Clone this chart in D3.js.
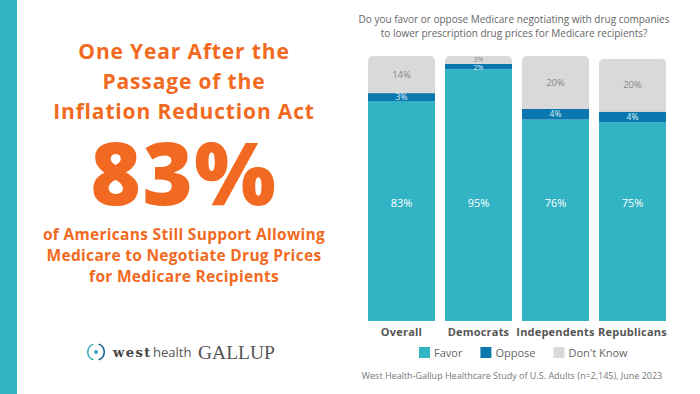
<!DOCTYPE html>
<html>
<head>
<meta charset="utf-8">
<script src="https://cdn.jsdelivr.net/npm/d3@7"></script>
<style>
  body { margin: 0; background: #fff; }
  svg { display: block; }
</style>
</head>
<body>
<svg id="chart"></svg>
<script>
var width = 700;
var height = 394;

// chart data
var categories = ["Overall", "Democrats", "Independents", "Republicans"];
var favor = [83, 95, 76, 75];
var oppose = [3, 2, 4, 4];
var dontKnow = [14, 3, 20, 20];
var seriesNames = ["Favor", "Oppose", "Don't Know"];
var seriesColors = ["#33b4c4", "#0a78ae", "#d9d9d9"];

var headline = ["One Year After the", "Passage of the", "Inflation Reduction Act"];
var bigNumber = "83%";
var subline = ["of Americans Still Support Allowing", "Medicare to Negotiate Drug Prices", "for Medicare Recipients"];
var question = ["Do you favor or oppose Medicare negotiating with drug companies",
                "to lower prescription drug prices for Medicare recipients?"];
var source = "West Health-Gallup Healthcare Study of U.S. Adults (n=2,145), June 2023";

var orange = "#f26a21";
var font = "'Open Sans', sans-serif";

var svg = d3.select("#chart")
  .attr("width", width)
  .attr("height", height)
  .style("font-family", font);

// teal stripe on the left
svg.append("rect").attr("x", 0).attr("y", 0).attr("width", 17).attr("height", height).attr("fill", "#32b4c4");

// left side headline
svg.selectAll(".headline").data(headline).enter().append("text")
  .attr("class", "headline")
  .attr("x", 184)
  .attr("y", (d, i) => 59 + i * 30)
  .attr("text-anchor", "middle")
  .attr("fill", orange)
  .style("font-size", "21px")
  .style("font-weight", 700)
  .style("letter-spacing", "0.85px")
  .text(d => d);

svg.append("text")
  .attr("x", 184)
  .attr("y", 205)
  .attr("text-anchor", "middle")
  .attr("fill", orange)
  .style("font-size", "86px")
  .style("font-weight", 800)
  .style("letter-spacing", "1.5px")
  .text(bigNumber);

svg.selectAll(".subline").data(subline).enter().append("text")
  .attr("class", "subline")
  .attr("x", 184)
  .attr("y", (d, i) => 240 + i * 21)
  .attr("text-anchor", "middle")
  .attr("fill", orange)
  .style("font-size", "15.5px")
  .style("font-weight", 700)
  .style("letter-spacing", "0.3px")
  .text(d => d);

// logos
var logo = svg.append("g").attr("transform", "translate(96,352)");
logo.append("path")
  .attr("d", d3.arc().innerRadius(7.5).outerRadius(9)({startAngle: Math.PI * 1.1, endAngle: Math.PI * 1.9}))
  .attr("fill", "#35a9b8");
logo.append("path")
  .attr("d", d3.arc().innerRadius(7.5).outerRadius(9)({startAngle: Math.PI * 0.1, endAngle: Math.PI * 0.9}))
  .attr("fill", "#0a5f86");
logo.append("circle").attr("r", 2).attr("fill", "#35a9b8");
svg.append("text")
  .attr("x", 113).attr("y", 357)
  .attr("fill", "#444")
  .style("font-family", "'DejaVu Serif', serif")
  .style("font-size", "13px")
  .style("font-weight", 700)
  .style("letter-spacing", "1.5px")
  .text("west");
svg.append("text")
  .attr("x", 153).attr("y", 357)
  .attr("fill", "#555")
  .style("font-size", "13px")
  .text("health");
svg.append("text")
  .attr("x", 198).attr("y", 359)
  .attr("fill", "#555")
  .style("font-family", "'Liberation Serif', serif")
  .style("font-size", "19.5px")
  .text("GALLUP");

// question
svg.selectAll(".question").data(question).enter().append("text")
  .attr("class", "question")
  .attr("x", 514)
  .attr("y", (d, i) => 23 + i * 14)
  .attr("text-anchor", "middle")
  .attr("fill", "#666")
  .style("font-size", "10px")
  .text(d => d);

// scales
var x = d3.scaleBand()
  .domain(categories)
  .range([368, 666])
  .paddingInner(0.13);

var y = d3.scaleLinear()
  .domain([0, 100])
  .range([321, 56]);

var rows = categories.map((c, i) => ({category: c, favor: favor[i], oppose: oppose[i], dontKnow: dontKnow[i]}));
var keys = ["favor", "oppose", "dontKnow"];
var stacked = d3.stack().keys(keys)(rows);

// rounded top corners via clip
var defs = svg.append("defs");
rows.forEach(function (r, i) {
  defs.append("clipPath").attr("id", "clip" + i)
    .append("rect")
    .attr("x", x(r.category))
    .attr("y", y(r.favor + r.oppose + r.dontKnow))
    .attr("width", x.bandwidth())
    .attr("height", y(0) - y(r.favor + r.oppose + r.dontKnow) + 10)
    .attr("rx", 5);
});

var barGroups = svg.selectAll(".bar").data(rows).enter().append("g")
  .attr("class", "bar")
  .attr("clip-path", (d, i) => "url(#clip" + i + ")");

barGroups.each(function (r, i) {
  var g = d3.select(this);
  stacked.forEach(function (s, k) {
    g.append("rect")
      .attr("x", x(r.category))
      .attr("y", y(s[i][1]))
      .attr("width", x.bandwidth())
      .attr("height", y(s[i][0]) - y(s[i][1]))
      .attr("fill", seriesColors[k]);
  });
});

// value labels
rows.forEach(function (r, i) {
  var cx = x(r.category) + x.bandwidth() / 2;
  svg.append("text")
    .attr("x", cx).attr("y", y(44.5))
    .attr("dy", "0.35em")
    .attr("text-anchor", "middle")
    .attr("fill", "#fff")
    .style("font-size", "11px")
    .text(r.favor + "%");
  var s1 = stacked[1][i];
  svg.append("text")
    .attr("x", cx).attr("y", (y(s1[0]) + y(s1[1])) / 2 + (r.oppose < 3 ? 0.5 : 0))
    .attr("dy", "0.35em")
    .attr("text-anchor", "middle")
    .attr("fill", "#dff2f7")
    .style("font-size", r.oppose < 3 ? "7px" : "8.5px")
    .text(r.oppose + "%");
  var s2 = stacked[2][i];
  svg.append("text")
    .attr("x", cx).attr("y", (y(s2[0]) + y(s2[1])) / 2 - (r.dontKnow < 5 ? 0.5 : 0))
    .attr("dy", "0.35em")
    .attr("text-anchor", "middle")
    .attr("fill", "#888")
    .style("font-size", r.dontKnow < 5 ? "7px" : "9.5px")
    .text(r.dontKnow + "%");
});

// category labels
svg.selectAll(".cat").data(categories).enter().append("text")
  .attr("class", "cat")
  .attr("x", d => x(d) + x.bandwidth() / 2)
  .attr("y", 332)
  .attr("dy", "0.35em")
  .attr("text-anchor", "middle")
  .attr("fill", "#555")
  .style("font-size", "11px")
  .style("font-weight", 700)
  .style("letter-spacing", "0.2px")
  .text(d => d);

// legend
var lx = 419;
seriesNames.forEach(function (name, k) {
  svg.append("rect")
    .attr("x", lx).attr("y", 347)
    .attr("width", 11).attr("height", 11)
    .attr("fill", seriesColors[k]);
  var t = svg.append("text")
    .attr("x", lx + 15).attr("y", 353)
    .attr("dy", "0.35em")
    .attr("fill", "#666")
    .style("font-size", "11px")
    .text(name);
  lx += 15 + t.node().getComputedTextLength() + 18;
});

// source
svg.append("text")
  .attr("x", 512).attr("y", 376)
  .attr("dy", "0.35em")
  .attr("text-anchor", "middle")
  .attr("fill", "#777")
  .style("font-size", "9px")
  .text(source);
</script>
</body>
</html>
